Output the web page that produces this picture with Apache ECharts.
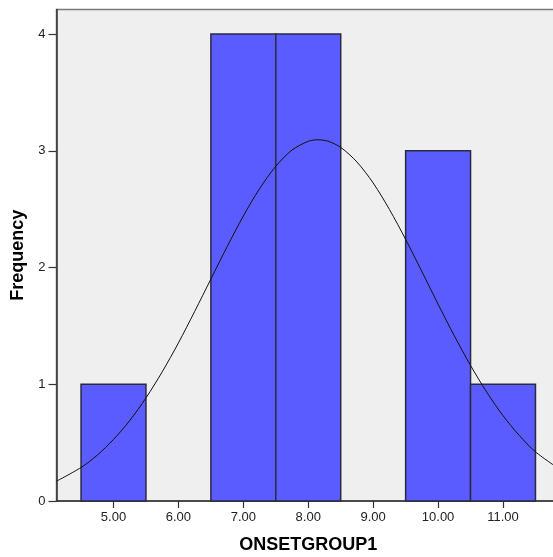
<!DOCTYPE html>
<html>
<head>
<meta charset="utf-8">
<script src="https://cdn.jsdelivr.net/npm/echarts@6/dist/echarts.min.js"></script>
<style>html,body{margin:0;padding:0;background:#fff}#c{width:553px;height:557px}</style>
</head>
<body>
<div id="c"></div>
<script>
// Histogram bins: [lower edge, upper edge]
const binStarts = [4.5, 6.5, 7.5, 9.5, 10.5];
const binEnds   = [5.5, 7.5, 8.5, 10.5, 11.5];
const frequencies = [1, 4, 4, 3, 1];
// Normal curve
const curveX = [4.122, 4.5, 4.75, 5, 5.25, 5.5, 5.75, 6, 6.25, 6.5, 6.75, 7, 7.25, 7.5, 7.75, 8, 8.15, 8.3, 8.5, 8.75, 9, 9.25, 9.5, 9.75, 10, 10.25, 10.5, 10.75, 11, 11.25, 11.5, 11.878];
const curveY = [0.17, 0.287, 0.393, 0.527, 0.689, 0.883, 1.106, 1.354, 1.623, 1.901, 2.178, 2.441, 2.675, 2.867, 3.006, 3.081, 3.094, 3.083, 3.029, 2.904, 2.724, 2.498, 2.241, 1.966, 1.686, 1.415, 1.161, 0.932, 0.731, 0.562, 0.421, 0.27];
const xTicks = [5, 6, 7, 8, 9, 10, 11];
const yTicks = [0, 1, 2, 3, 4];
const xTitle = 'ONSETGROUP1';
const yTitle = 'Frequency';

const barData = binStarts.map((s, i) => [s, binEnds[i], frequencies[i]]);
const lineData = curveX.map((x, i) => [x, curveY[i]]);

const chart = echarts.init(document.getElementById('c'));
chart.setOption({
  animation: false,
  textStyle: { fontFamily: 'Liberation Sans, Arial, sans-serif' },
  grid: { left: 56.5, right: -7, top: 9.5, bottom: 56, outerBoundsMode: 'none', containLabel: false, show: true, backgroundColor: '#efefef', borderColor: '#7a7a7a', borderWidth: 1.5 },
  xAxis: {
    type: 'value', min: 4.122, max: 11.878,
    name: xTitle, nameLocation: 'middle', nameGap: 35,
    nameTextStyle: { fontWeight: 'bold', fontSize: 18, color: '#000' },
    axisLine: { show: true, lineStyle: { color: '#333', width: 1.5 } },
    axisTick: { show: true, length: 7, customValues: xTicks, lineStyle: { color: '#333', width: 1.2 } },
    axisLabel: { customValues: xTicks, formatter: v => v.toFixed(2), color: '#222', fontSize: 13, margin: 10 },
    splitLine: { show: false }
  },
  yAxis: {
    type: 'value', min: 0, max: 4.21,
    name: yTitle, nameLocation: 'middle', nameGap: 24, nameRotate: 90,
    nameTextStyle: { fontWeight: 'bold', fontSize: 18, color: '#000' },
    axisLine: { show: true, lineStyle: { color: '#333', width: 1.5 } },
    axisTick: { show: true, length: 8, customValues: yTicks, lineStyle: { color: '#333', width: 1.2 } },
    axisLabel: { customValues: yTicks, color: '#222', fontSize: 13, margin: 11 },
    splitLine: { show: false }
  },
  series: [
    {
      type: 'custom',
      data: barData,
      encode: { x: [0, 1], y: 2 },
      renderItem: function (params, api) {
        const p0 = api.coord([api.value(0), api.value(2)]);
        const p1 = api.coord([api.value(1), 0]);
        return {
          type: 'rect',
          shape: { x: p0[0], y: p0[1], width: p1[0] - p0[0], height: p1[1] - p0[1] },
          style: { fill: '#5b5cff', stroke: '#2a2a40', lineWidth: 1.5 }
        };
      },
      z: 2
    },
    {
      type: 'line', data: lineData, smooth: 0.3, showSymbol: false,
      lineStyle: { color: '#111', width: 1 }, z: 3
    }
  ]
});
</script>
</body>
</html>
